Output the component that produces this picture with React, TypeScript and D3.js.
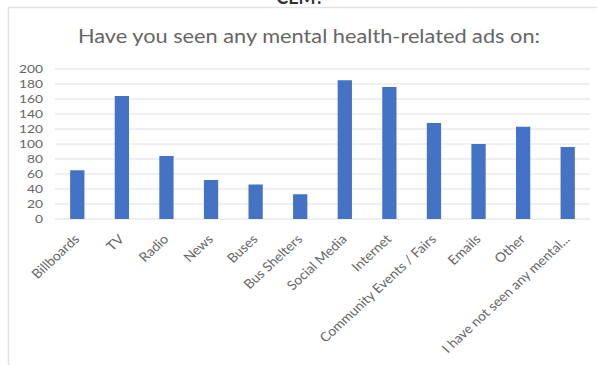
import React from "react";
import * as d3 from "d3";

const categories = [
  "Billboards",
  "TV",
  "Radio",
  "News",
  "Buses",
  "Bus Shelters",
  "Social Media",
  "Internet",
  "Community Events / Fairs",
  "Emails",
  "Other",
  "I have not seen any mental...",
];
const values = [65, 164, 84, 52, 46, 33, 185, 176, 128, 100, 123, 96];
const yTicks = [0, 20, 40, 60, 80, 100, 120, 140, 160, 180, 200];
const title = "Have you seen any mental health-related ads on:";
const topText = "CEM?";

const W = 597;
const H = 365;
const plot = { left: 55, right: 590, top: 69, bottom: 219 };
const font = "Lato, 'Open Sans', sans-serif";

export default function App() {
  const x = d3
    .scaleBand<string>()
    .domain(categories)
    .range([plot.left, plot.right])
    .paddingInner(0.68)
    .paddingOuter(0.34);
  const y = d3.scaleLinear().domain([0, 200]).range([plot.bottom, plot.top]);

  return (
    <svg
      width={W}
      height={H}
      style={{ position: "absolute", left: 0, top: 0, background: "#fff" }}
    >
      <rect x={0} y={0} width={W} height={H} fill="#fff" />
      <text
        x={300}
        y={4}
        textAnchor="middle"
        fontFamily={font}
        fontWeight={700}
        fontSize={18}
        fill="#333"
      >
        {topText}
      </text>
      <rect
        x={8.5}
        y={7.5}
        width={W}
        height={H}
        fill="none"
        stroke="#e3e3e3"
        strokeWidth={1.5}
      />
      <text
        x={78}
        y={43}
        fontFamily={font}
        fontSize={18.5}
        fill="#666"
        textLength={462}
        lengthAdjust="spacingAndGlyphs"
      >
        {title}
      </text>
      {yTicks.map((t) => (
        <g key={t}>
          <line
            x1={plot.left}
            x2={plot.right}
            y1={y(t)}
            y2={y(t)}
            stroke="#e0e0e0"
            strokeWidth={1}
          />
          <text
            transform={`translate(43,${y(t)}) scale(1.25,1)`}
            dy="0.35em"
            textAnchor="end"
            fontFamily={font}
            fontSize={11}
            fill="#666"
          >
            {t}
          </text>
        </g>
      ))}
      {categories.map((c, i) => (
        <rect
          key={c}
          x={x(c)}
          y={y(values[i])}
          width={x.bandwidth()}
          height={y(0) - y(values[i])}
          fill="#4472C4"
        />
      ))}
      {categories.map((c) => {
        const cx = (x(c) as number) + x.bandwidth() / 2;
        return (
          <text
            key={c}
            transform={`translate(${cx + 3},${plot.bottom + 21}) scale(1.08,1) rotate(-45)`}
            textAnchor="end"
            fontFamily={font}
            fontSize={13}
            fill="#666"
          >
            {c}
          </text>
        );
      })}
    </svg>
  );
}
